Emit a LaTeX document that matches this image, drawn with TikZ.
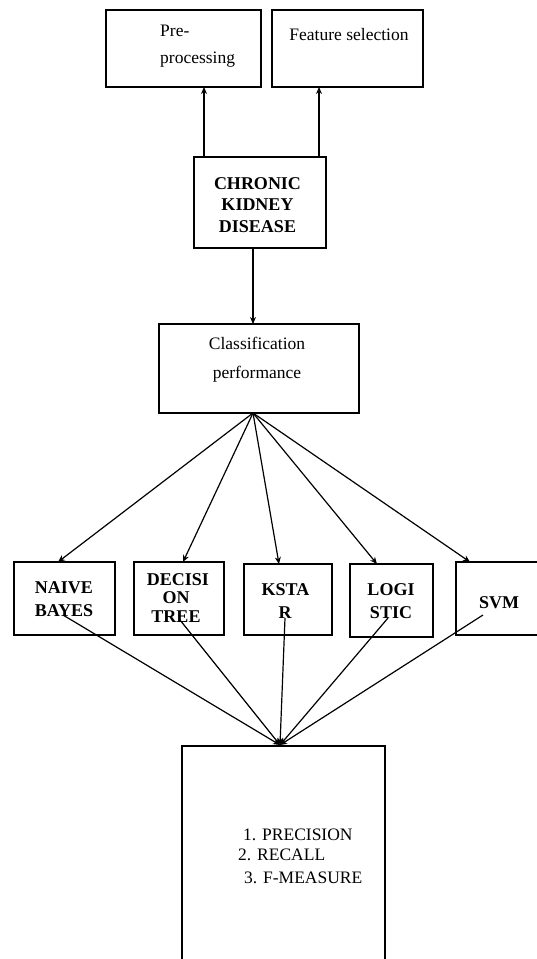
\documentclass[tikz,border=0pt]{standalone}
\usepackage{fontspec}
\setmainfont{Liberation Serif}
\usetikzlibrary{arrows.meta}
\begin{document}
\begin{tikzpicture}[x=1pt,y=-1pt,
  box/.style={draw, line width=1.3pt, inner sep=0pt},
  txt/.style={inner sep=0pt, anchor=base, font=\fontsize{17.5}{20}\selectfont},
  btxt/.style={inner sep=0pt, anchor=base, font=\fontsize{18}{20}\selectfont\bfseries},
  conn/.style={line width=1.2pt, -{Stealth[length=7pt,width=6pt]}},
  line/.style={line width=1.2pt}]
\clip (0,0) rectangle (537,959);
\fill[white] (0,0) rectangle (537,959);
% boxes
\node[box, minimum width=155pt, minimum height=77pt] (pre) at (183.5,48.5) {};
\node[box, minimum width=151pt, minimum height=77pt] (feat) at (347.5,48.5) {};
\node[box, minimum width=132pt, minimum height=91pt] (ckd) at (260,202.5) {};
\node[box, minimum width=200pt, minimum height=89pt] (cls) at (259,368.5) {};
\node[box, minimum width=101pt, minimum height=73pt] (nb) at (64.5,598.5) {};
\node[box, minimum width=90pt, minimum height=73pt] (dt) at (179,598.5) {};
\node[box, minimum width=88pt, minimum height=71pt] (ks) at (288,599.5) {};
\node[box, minimum width=83pt, minimum height=73pt] (lg) at (391.5,600.5) {};
\node[box, minimum width=100pt, minimum height=73pt] (svm) at (506,598.5) {};
\node[box, minimum width=203pt, minimum height=240pt] (res) at (283.5,866) {};
% texts
\node[txt, anchor=base west] (t1) at (160,36) {Pre-};
\node[txt, anchor=base west] (t2) at (160,63) {processing};
\node[txt] (t3) at (349,40) {Feature selection};
\node[btxt] (t4) at (257.5,189) {CHRONIC};
\node[btxt] (t5) at (257.5,210) {KIDNEY};
\node[btxt] (t6) at (257.5,232) {DISEASE};
\node[txt] (t7) at (257,349) {Classification};
\node[txt] (t8) at (257,378) {performance};
\node[btxt] (t9) at (64,593) {NAIVE};
\node[btxt] (t10) at (64,616) {BAYES};
\node[btxt] (t11) at (178,585) {DECISI};
\node[btxt] (t12) at (176,603) {ON};
\node[btxt] (t13) at (176,622) {TREE};
\node[btxt] (t14) at (285.5,595) {KSTA};
\node[btxt] (t15) at (285,618) {R};
\node[btxt] (t16) at (391,595) {LOGI};
\node[btxt] (t17) at (391,618) {STIC};
\node[btxt] (t18) at (499,608) {SVM};
\node[txt, anchor=base west] (t19) at (243,840) {1. PRECISION};
\node[txt, anchor=base west] (t20) at (238,860) {2. RECALL};
\node[txt, anchor=base west] (t21) at (244,883) {3. F-MEASURE};
% connector points
\coordinate (ckdL) at (204,157);
\coordinate (ckdR) at (319,157);
\coordinate (preB) at (204,87);
\coordinate (featB) at (319,87);
\coordinate (ckdB) at (253,248);
\coordinate (clsT) at (253,324);
\coordinate (clsB) at (253,413);
\coordinate (a1) at (58,562);
\coordinate (a2) at (183,562);
\coordinate (a3) at (279,564);
\coordinate (a4) at (377,564);
\coordinate (a5) at (470,562);
\coordinate (s1) at (63,615);
\coordinate (s2) at (180,620);
\coordinate (s3) at (285,618);
\coordinate (s4) at (388,618);
\coordinate (s5) at (483,615);
\coordinate (m) at (280,745);
% connectors
\draw[conn] (ckdL) -- (preB);
\draw[conn] (ckdR) -- (featB);
\draw[conn] (ckdB) -- (clsT);
\foreach \t in {a1,a2,a3,a4,a5} \draw[conn] (clsB) -- (\t);
\foreach \s in {s1,s2,s3,s4,s5} \draw[conn] (\s) -- (m);
\end{tikzpicture}
\end{document}
